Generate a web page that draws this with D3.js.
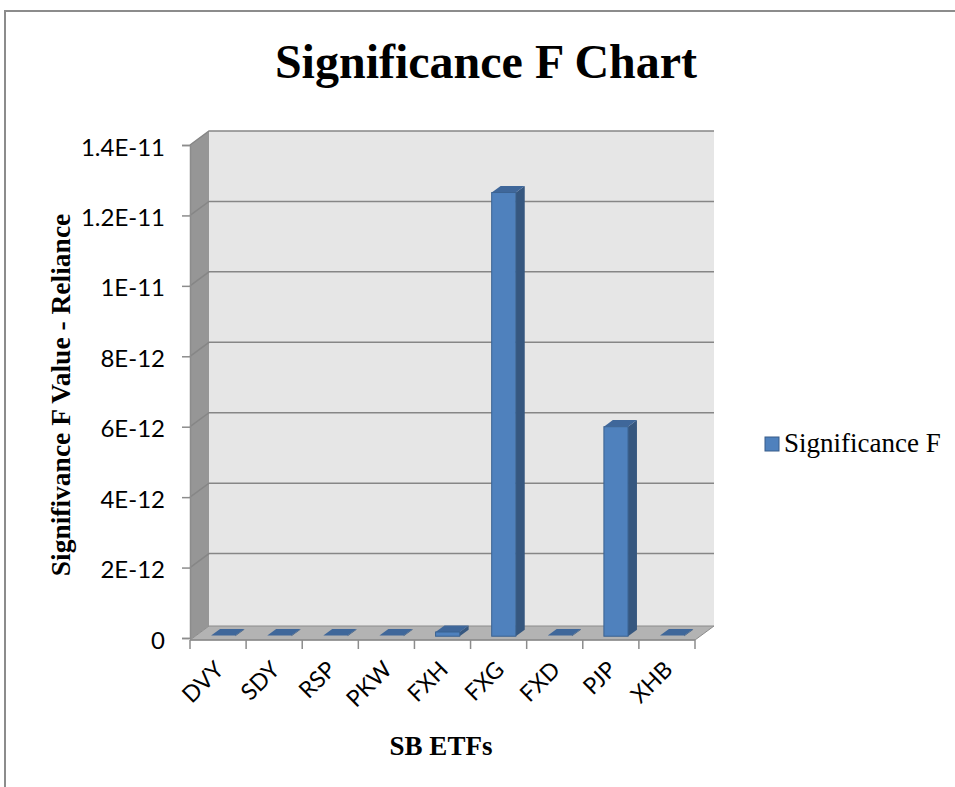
<!DOCTYPE html>
<html>
<head>
<meta charset="utf-8">
<script src="https://cdn.jsdelivr.net/npm/d3@7"></script>
<style>
  body { margin: 0; background: #fff; }
  svg { display: block; }
</style>
</head>
<body>
<svg id="chart" width="955" height="787"></svg>
<script>
const categories = ["DVY", "SDY", "RSP", "PKW", "FXH", "FXG", "FXD", "PJP", "XHB"];
const significanceF = [2e-14, 2e-14, 2e-14, 2e-14, 1.2e-13, 1.26e-11, 2e-14, 5.95e-12, 2e-14];
const yTicks = [0, 2e-12, 4e-12, 6e-12, 8e-12, 1e-11, 1.2e-11, 1.4e-11];
const seriesName = "Significance F";

// 3d depth offset of the plot box
const DX = 19, DY = -14;
const BAR_FRONT = 0.27, BAR_BACK = 0.74;

const svg = d3.select("#chart");

// outer frame (only top and left are visible)
svg.append("path")
    .attr("d", "M5,787 L5,11 L955,11")
    .attr("fill", "none")
    .attr("stroke", "#8c8c8c")
    .attr("stroke-width", 2);

const x = d3.scaleBand().domain(categories).range([190, 695]).padding(0);
const y = d3.scaleLinear().domain([0, 1.4e-11]).range([638, 145]);

const fmt = v => v === 0 ? "0" : v.toExponential(1).replace(".0", "").replace("e", "E");

const x0 = x.range()[0], x1 = x.range()[1];
const yBase = 640, yTop = y(1.4e-11);

// back wall
svg.append("rect")
    .attr("x", x0 + DX).attr("y", yTop + DY)
    .attr("width", x1 - x0).attr("height", yBase - yTop)
    .attr("fill", "#e6e6e6");

// left side wall
svg.append("polygon")
    .attr("points", [[x0, yTop], [x0 + DX, yTop + DY], [x0 + DX, yBase + DY], [x0, yBase]].join(" "))
    .attr("fill", "#969696");

// gridlines on back wall + side wall
const grid = svg.append("g").attr("stroke", "#868686").attr("stroke-width", 1.5).attr("fill", "none");
yTicks.slice(1).forEach(t => {
    grid.append("path")
        .attr("d", `M${x0},${y(t)} L${x0 + DX},${y(t) + DY} L${x1 + DX},${y(t) + DY}`);
});

// floor
svg.append("polygon")
    .attr("points", [[x0, yBase], [x0 + DX, yBase + DY], [x1 + DX, yBase + DY], [x1, yBase]].join(" "))
    .attr("fill", "#b3b3b3")
    .attr("stroke", "#8c8c8c")
    .attr("stroke-width", 1);

// y axis
const yAxis = d3.axisLeft(y).tickValues(yTicks).tickFormat(fmt).tickSize(8).tickPadding(17);
const gy = svg.append("g").attr("transform", `translate(${x0},0)`).call(yAxis);
gy.select(".domain").attr("stroke", "#8c8c8c").attr("stroke-width", 1.5);
gy.selectAll(".tick line").attr("stroke", "#8c8c8c").attr("stroke-width", 1.5);
gy.selectAll(".tick text")
    .attr("font-family", "Lato, 'Liberation Sans', sans-serif")
    .attr("font-size", 24)
    .attr("dy", "0.42em")
    .attr("fill", "#000");

// x axis
const gx = svg.append("g").attr("transform", `translate(0,${yBase})`);
gx.append("line").attr("x1", x0).attr("x2", x1).attr("stroke", "#8c8c8c").attr("stroke-width", 1.5);
const xTickPos = categories.map(c => x(c)).concat([x1]);
gx.selectAll("line.tick").data(xTickPos).enter().append("line")
    .attr("class", "tick")
    .attr("x1", d => d).attr("x2", d => d)
    .attr("y1", 0).attr("y2", 9)
    .attr("stroke", "#8c8c8c").attr("stroke-width", 1.5);
gx.selectAll("text").data(categories).enter().append("text")
    .attr("transform", d => `translate(${x(d) + x.bandwidth() / 2 + 7},${31}) rotate(-45)`)
    .attr("text-anchor", "end")
    .attr("font-family", "Lato, 'Liberation Sans', sans-serif")
    .attr("font-size", 23)
    .text(d => d);

// bars (front face, side face, top face)
const bw = x.bandwidth() * 0.43;
const bdx0 = DX * BAR_FRONT, bdy0 = DY * BAR_FRONT;
const ddx = DX * (BAR_BACK - BAR_FRONT), ddy = DY * (BAR_BACK - BAR_FRONT);

const bars = svg.append("g").selectAll("g").data(categories.map((c, i) => ({c, v: significanceF[i]})))
    .enter().append("g");

bars.each(function(d) {
    const g = d3.select(this);
    const left = x(d.c) + (x.bandwidth() - bw) / 2 + bdx0;
    const right = left + bw;
    const bottom = y(0) + 2 + bdy0;
    const top = y(d.v) + 2 + bdy0;
    // side
    g.append("polygon")
        .attr("points", [[right, bottom], [right, top], [right + ddx, top + ddy], [right + ddx, bottom + ddy]].join(" "))
        .attr("fill", "#36577f");
    // top
    g.append("polygon")
        .attr("points", [[left, top], [left + ddx, top + ddy], [right + ddx, top + ddy], [right, top]].join(" "))
        .attr("fill", "#3f679a");
    // front
    if (bottom - top > 1) {
        g.append("rect")
            .attr("x", left).attr("y", top)
            .attr("width", bw).attr("height", bottom - top)
            .attr("fill", "#4f81bd")
            .attr("stroke", "#3a6291").attr("stroke-width", 1);
    }
});

// title
svg.append("text")
    .attr("x", 486).attr("y", 78)
    .attr("text-anchor", "middle")
    .attr("font-family", "'Liberation Serif', 'Times New Roman', serif")
    .attr("font-weight", "bold")
    .attr("font-size", 48)
    .text("Significance F Chart");

// axis titles
svg.append("text")
    .attr("transform", "translate(70,395) rotate(-90)")
    .attr("text-anchor", "middle")
    .attr("font-family", "'Liberation Serif', 'Times New Roman', serif")
    .attr("font-weight", "bold")
    .attr("font-size", 27.5)
    .text("Signifivance F Value - Reliance");

svg.append("text")
    .attr("x", 441).attr("y", 755)
    .attr("text-anchor", "middle")
    .attr("font-family", "'Liberation Serif', 'Times New Roman', serif")
    .attr("font-weight", "bold")
    .attr("font-size", 27)
    .text("SB ETFs");

// legend
const legend = svg.append("g").attr("transform", "translate(765,437)");
legend.append("rect")
    .attr("width", 14).attr("height", 14)
    .attr("fill", "#4f81bd").attr("stroke", "#385d8a").attr("stroke-width", 1);
legend.append("text")
    .attr("x", 19).attr("y", 15)
    .attr("font-family", "'Liberation Serif', 'Times New Roman', serif")
    .attr("font-size", 27)
    .text(seriesName);
</script>
</body>
</html>
